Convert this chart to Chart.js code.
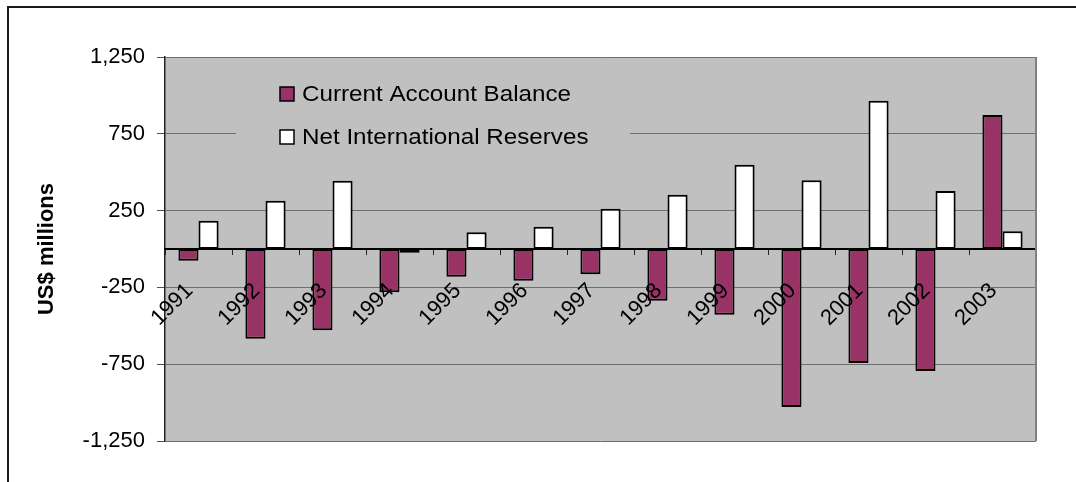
<!DOCTYPE html>
<html>
<head>
<meta charset="utf-8">
<script src="https://cdn.jsdelivr.net/npm/chart.js@4.4.1/dist/chart.umd.min.js"></script>
<style>
  html, body { margin: 0; padding: 0; background: #fff; overflow: hidden; }
  #frame { position: absolute; left: 7px; top: 6px; width: 1200px; height: 600px; border: 2px solid #1a1a1a; }
  #chart { position: absolute; left: 0; top: 0; }
</style>
</head>
<body>
<div id="frame"></div>
<canvas id="chart" width="1076" height="482"></canvas>
<script>
const years = ['1991', '1992', '1993', '1994', '1995', '1996', '1997', '1998', '1999', '2000', '2001', '2002', '2003'];
const currentAccount = [-76, -584, -529, -282, -180, -206, -165, -337, -428, -1029, -742, -794, 872];
const netReserves = [184, 314, 445, -24, 109, 145, 262, 354, 549, 447, 965, 378, 115];
const yTicks = [-1250, -750, -250, 250, 750, 1250];

Chart.defaults.font.family = '"Liberation Sans", Arial, sans-serif';
Chart.defaults.color = '#000';

// grey plot area plus its right edge
const plotBackground = {
    id: 'plotBackground',
    beforeDraw(chart) {
        const {ctx, chartArea: a} = chart;
        ctx.save();
        ctx.fillStyle = '#c0c0c0';
        ctx.fillRect(a.left, a.top, a.right - a.left, a.bottom - a.top);
        ctx.restore();
    },
    afterDraw(chart) {
        const {ctx, chartArea: a} = chart;
        ctx.save();
        ctx.strokeStyle = '#808080';
        ctx.lineWidth = 2;
        ctx.beginPath();
        ctx.moveTo(a.right, a.top);
        ctx.lineTo(a.right, a.bottom);
        ctx.stroke();
        ctx.restore();
    }
};

// legend sits inside the plot, on its own grey box over the grid
const insideLegend = {
    id: 'insideLegend',
    beforeDatasetsDraw(chart) {
        const ctx = chart.ctx;
        ctx.save();
        ctx.fillStyle = '#c0c0c0';
        ctx.fillRect(236, 66, 394, 90);
        ctx.font = '22px "Liberation Sans", Arial, sans-serif';
        ctx.textBaseline = 'middle';
        chart.data.datasets.forEach((ds, i) => {
            const y = 94 + i * 43;
            ctx.fillStyle = ds.backgroundColor;
            ctx.fillRect(280, y - 7, 14, 14);
            ctx.strokeStyle = '#000';
            ctx.lineWidth = 1.5;
            ctx.strokeRect(280, y - 7, 14, 14);
            // text is a little wide, as in the old spreadsheet export
            ctx.save();
            ctx.translate(302, y + 1);
            ctx.scale(1.1, 1);
            ctx.fillStyle = '#000';
            ctx.fillText(ds.label, 0, 0);
            ctx.restore();
        });
        ctx.restore();
    }
};

new Chart(document.getElementById('chart'), {
    type: 'bar',
    data: {
        labels: years,
        datasets: [{
            label: 'Current Account Balance',
            data: currentAccount,
            backgroundColor: '#993366',
            borderColor: '#000',
            borderWidth: 2,
            borderSkipped: false
        }, {
            label: 'Net International Reserves',
            data: netReserves,
            backgroundColor: '#ffffff',
            borderColor: '#000',
            borderWidth: 2,
            borderSkipped: false
        }]
    },
    options: {
        responsive: false,
        animation: false,
        layout: { padding: { left: 0, top: 57, right: 40, bottom: 41 } },
        datasets: { bar: { categoryPercentage: 0.6, barPercentage: 1 } },
        plugins: {
            legend: { display: false },
            tooltip: { enabled: false }
        },
        scales: {
            x: {
                position: { y: 0 },
                afterFit(scale) { scale.height = 0; },
                offset: true,
                grid: { drawOnChartArea: false, offset: true, color: '#222', tickLength: 5, lineWidth: 1 },
                border: { color: '#000', width: 2, z: 1 },
                // year labels are drawn over the bars
                ticks: { z: 1, autoSkip: false, minRotation: 45, maxRotation: 45, padding: 24, labelOffset: -9, font: { size: 22 } }
            },
            y: {
                min: -1250,
                max: 1250,
                afterBuildTicks(scale) { scale.ticks = yTicks.map(v => ({ value: v })); },
                afterFit(scale) { scale.width = 165; },
                grid: { color: '#6e6e6e', tickColor: '#555', tickLength: 8, lineWidth: 1 },
                border: { color: '#222', width: 1.5 },
                ticks: {
                    padding: 12,
                    font: { size: 22 },
                    callback: v => v.toLocaleString('en-US')
                },
                title: {
                    display: true,
                    text: 'US$ millions',
                    padding: { top: 34, bottom: 0 },
                    font: { size: 22, weight: 'bold' }
                }
            }
        }
    },
    plugins: [plotBackground, insideLegend]
});
</script>
</body>
</html>
